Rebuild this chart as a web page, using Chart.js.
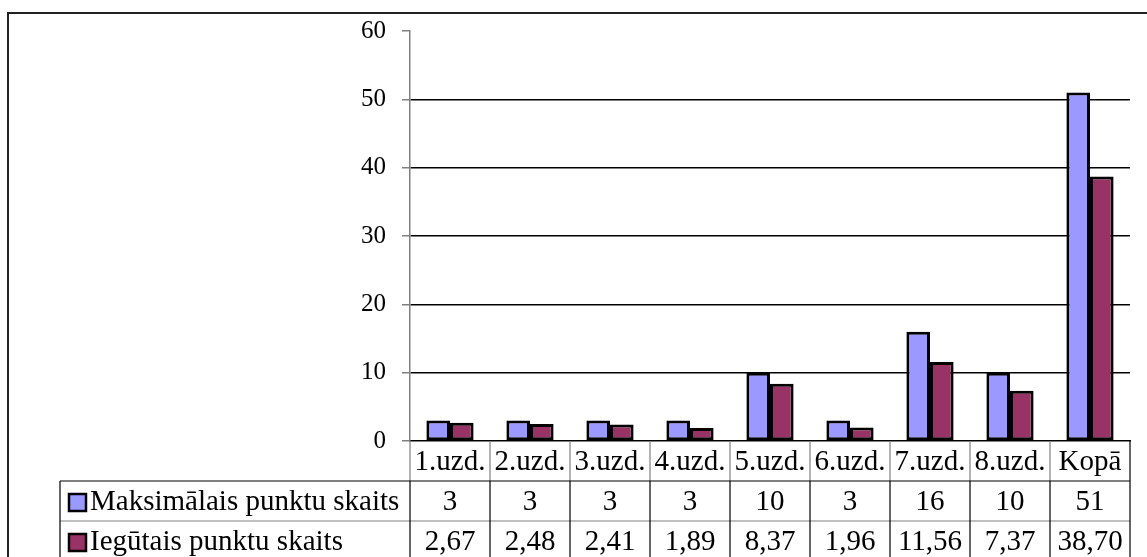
<!DOCTYPE html>
<html>
<head>
<meta charset="utf-8">
<script src="https://cdn.jsdelivr.net/npm/chart.js@4.4.0/dist/chart.umd.min.js"></script>
<style>
  html, body { margin: 0; padding: 0; background: #fff; }
  #wrap { position: relative; width: 1147px; height: 557px; }
</style>
</head>
<body>
<div id="wrap"><canvas id="chart"></canvas></div>
<script>
// data
const categories = ["1.uzd.", "2.uzd.", "3.uzd.", "4.uzd.", "5.uzd.", "6.uzd.", "7.uzd.", "8.uzd.", "Kopā"];
const seriesNames = ["Maksimālais punktu skaits", "Iegūtais punktu skaits"];
const maxPoints = [3, 3, 3, 3, 10, 3, 16, 10, 51];
const gotPoints = [2.67, 2.48, 2.41, 1.89, 8.37, 1.96, 11.56, 7.37, 38.70];
const maxLabels = ["3", "3", "3", "3", "10", "3", "16", "10", "51"];
const gotLabels = ["2,67", "2,48", "2,41", "1,89", "8,37", "1,96", "11,56", "7,37", "38,70"];
const yTicks = [0, 10, 20, 30, 40, 50, 60];

const colors = ['#9999FF', '#993366'];
const serif = "'Liberation Serif', serif";
Chart.defaults.font.family = serif;
Chart.defaults.color = '#000';

// outer frame + data table under the plot
const tablePlugin = {
  id: 'dataTable',
  afterDraw(chart) {
    const ctx = chart.ctx;
    const x = chart.scales.x;
    const area = chart.chartArea;
    const half = (x.getPixelForValue(1) - x.getPixelForValue(0)) / 2;
    const rows = [area.bottom, area.bottom + 40, area.bottom + 80, area.bottom + 120];
    const legendLeft = 60;

    ctx.save();
    // outer chart frame
    ctx.strokeStyle = '#222';
    ctx.lineWidth = 2;
    ctx.beginPath();
    ctx.moveTo(8, 600); ctx.lineTo(8, 13); ctx.lineTo(1150, 13);
    ctx.stroke();

    // category row dividers (grey)
    ctx.lineWidth = 1.2;
    ctx.strokeStyle = '#808080';
    ctx.beginPath();
    categories.forEach((c, i) => {
      const l = x.getPixelForValue(i) - half;
      ctx.moveTo(l, rows[0]); ctx.lineTo(l, rows[1]);
    });
    ctx.moveTo(legendLeft, rows[2]); ctx.lineTo(area.right, rows[2]);
    ctx.stroke();

    // value rows (black)
    ctx.strokeStyle = '#000';
    ctx.beginPath();
    ctx.moveTo(legendLeft, rows[1]); ctx.lineTo(area.right, rows[1]);
    ctx.moveTo(legendLeft, rows[1]); ctx.lineTo(legendLeft, rows[3]);
    categories.forEach((c, i) => {
      const l = x.getPixelForValue(i) - half;
      ctx.moveTo(l, rows[1]); ctx.lineTo(l, rows[3]);
    });
    ctx.moveTo(area.right, rows[0]); ctx.lineTo(area.right, rows[3]);
    ctx.stroke();

    // texts
    ctx.fillStyle = '#000';
    ctx.font = '29px ' + serif;
    ctx.textAlign = 'center';
    ctx.textBaseline = 'middle';
    const lines = [categories, maxLabels, gotLabels];
    lines.forEach((vals, r) => {
      vals.forEach((v, i) => {
        ctx.fillText(v, x.getPixelForValue(i), rows[r] + 21);
      });
    });

    // legend keys
    ctx.textAlign = 'left';
    seriesNames.forEach((name, r) => {
      const cy = rows[r + 1] + 21;
      ctx.fillStyle = colors[r];
      ctx.fillRect(69, cy - 8, 17, 17);
      ctx.strokeStyle = '#000';
      ctx.lineWidth = 2.5;
      ctx.strokeRect(69, cy - 8, 17, 17);
      ctx.fillStyle = '#000';
      ctx.fillText(name, 90, cy);
    });
    ctx.restore();
  }
};

new Chart(document.getElementById('chart'), {
  type: 'bar',
  data: {
    labels: categories,
    datasets: [{
      label: seriesNames[0],
      data: maxPoints,
      backgroundColor: colors[0],
      borderColor: '#000',
      borderWidth: 3,
      borderSkipped: false
    }, {
      label: seriesNames[1],
      data: gotPoints,
      backgroundColor: colors[1],
      borderColor: '#000',
      borderWidth: 3,
      borderSkipped: false
    }]
  },
  options: {
    responsive: true,
    maintainAspectRatio: false,
    animation: false,
    layout: { padding: { top: 28, right: 17, left: 0, bottom: 0 } },
    datasets: {
      bar: { categoryPercentage: 0.59, barPercentage: 1 }
    },
    plugins: {
      legend: { display: false },
      tooltip: { enabled: false }
    },
    scales: {
      x: {
        grid: { display: false },
        border: { display: true, color: '#000', width: 1.5 },
        ticks: { display: false },
        afterFit: s => { s.height = 116; }
      },
      y: {
        min: yTicks[0],
        max: yTicks[yTicks.length - 1],
        afterBuildTicks: s => { s.ticks = yTicks.map(v => ({ value: v })); },
        grid: {
          color: c => (c.tick && (c.tick.value === 0 || c.tick.value === 60)) ? 'rgba(0,0,0,0)' : '#000',
          lineWidth: 1.5,
          tickColor: '#808080',
          tickLength: 8,
          drawTicks: true
        },
        border: { color: '#808080', width: 1.5 },
        ticks: {
          color: '#000',
          padding: 16,
          font: { family: serif, size: 25 }
        },
        afterFit: s => { s.width = 410; }
      }
    }
  },
  plugins: [tablePlugin]
});
</script>
</body>
</html>
